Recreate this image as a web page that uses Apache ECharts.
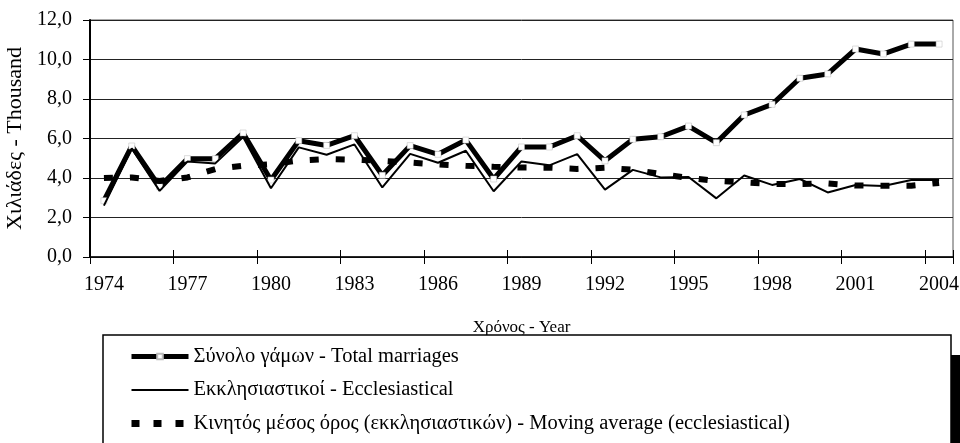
<!DOCTYPE html>
<html>
<head>
<meta charset="utf-8">
<script src="https://cdn.jsdelivr.net/npm/echarts@6/dist/echarts.min.js"></script>
<style>
html,body{margin:0;padding:0;background:#fff;}
#chart{width:960px;height:443px;}
</style>
</head>
<body>
<div id="chart"></div>
<script>
const years = ['1974','1975','1976','1977','1978','1979','1980','1981','1982','1983','1984','1985','1986','1987','1988','1989','1990','1991','1992','1993','1994','1995','1996','1997','1998','1999','2000','2001','2002','2003','2004'];
const totalMarriages = [2.85,5.62,3.56,4.98,4.98,6.28,3.90,5.89,5.65,6.14,4.14,5.64,5.20,5.92,3.95,5.57,5.57,6.14,4.87,5.96,6.09,6.63,5.79,7.19,7.73,9.05,9.27,10.53,10.28,10.78,10.78];
const ecclesiastical = [2.60,5.50,3.35,4.83,4.74,6.08,3.48,5.55,5.18,5.70,3.52,5.22,4.77,5.38,3.33,4.84,4.64,5.21,3.41,4.41,4.03,4.05,2.97,4.13,3.65,3.95,3.27,3.65,3.60,3.90,3.90];
const movingAverage = [4.00,4.03,3.85,4.03,4.45,4.62,4.70,4.88,4.96,4.93,4.87,4.78,4.69,4.62,4.57,4.53,4.52,4.46,4.52,4.42,4.20,4.00,3.85,3.78,3.70,3.70,3.72,3.62,3.61,3.61,3.75];
const yTicks = [0, 2, 4, 6, 8, 10, 12];

const seriesNames = [
  'Σύνολο γάμων - Total marriages',
  'Εκκλησιαστικοί - Ecclesiastical',
  'Κινητός μέσος όρος (εκκλησιαστικών) - Moving average (ecclesiastical)'
];
const FONT = '"Liberation Serif", "Times New Roman", serif';

const chart = echarts.init(document.getElementById('chart'), null, {renderer: 'canvas'});
chart.setOption({
  backgroundColor: '#fff',
  animation: false,
  textStyle: {fontFamily: FONT, color: '#000'},
  grid: {left: 90, right: 7, top: 20, bottom: 186, outerBoundsMode: 'none', containLabel: false,
    show: true, borderColor: '#555', borderWidth: 1, backgroundColor: 'transparent'},
  xAxis: [{
    type: 'category',
    data: years,
    boundaryGap: true,
    position: 'bottom',
    name: 'Χρόνος - Year',
    nameLocation: 'middle',
    nameGap: 62,
    nameTextStyle: {fontFamily: FONT, fontSize: 17, color: '#000'},
    axisLine: {show: true, lineStyle: {color: '#000', width: 1.5}},
    axisTick: {show: true, inside: false, length: 7, interval: 2, lineStyle: {color: '#000', width: 1}},
    axisLabel: {interval: 2, margin: 18, fontFamily: FONT, fontSize: 20, color: '#000'},
    splitLine: {show: false}
  }, {
    type: 'category',
    data: years,
    boundaryGap: true,
    position: 'bottom',
    axisLine: {show: false},
    axisTick: {show: true, inside: true, length: 7, interval: 2, lineStyle: {color: '#000', width: 1}},
    axisLabel: {show: false},
    splitLine: {show: false}
  }],
  yAxis: {
    type: 'value',
    min: yTicks[0],
    max: yTicks[yTicks.length - 1],
    interval: 2,
    name: 'Χιλιάδες - Thousand',
    nameLocation: 'middle',
    nameGap: 60,
    nameTextStyle: {fontFamily: FONT, fontSize: 22, color: '#000'},
    axisLine: {show: true, lineStyle: {color: '#000', width: 2}},
    axisTick: {show: true, inside: false, length: 7, lineStyle: {color: '#000', width: 1}},
    axisLabel: {margin: 18, fontFamily: FONT, fontSize: 20, color: '#000',
      formatter: v => v.toFixed(1).replace('.', ',')},
    splitLine: {show: true, lineStyle: {color: '#222', width: 1}}
  },
  legend: {
    orient: 'vertical',
    left: 123,
    top: 341,
    height: 110,
    itemWidth: 57,
    itemHeight: 7,
    itemGap: 12.5,
    z: 10,
    textStyle: {fontFamily: FONT, fontSize: 20.5, color: '#000'},
    data: [
      {name: seriesNames[0], lineStyle: {width: 5, color: '#000'}},
      {name: seriesNames[1], lineStyle: {width: 2, color: '#000'}},
      {name: seriesNames[2], lineStyle: {width: 7, color: '#000', type: [8, 14], cap: 'butt'}}
    ]
  },
  graphic: [
    {type: 'rect', z: 1, shape: {x: 103, y: 335, width: 848, height: 120}, style: {fill: '#fff', stroke: '#000', lineWidth: 1.5}},
    {type: 'rect', z: 1, shape: {x: 951, y: 355, width: 9, height: 90}, style: {fill: '#000'}}
  ],
  series: [{
    name: seriesNames[0],
    type: 'line',
    data: totalMarriages,
    symbol: 'rect',
    symbolSize: 6,
    showSymbol: true,
    itemStyle: {color: '#fff', borderColor: '#bbb', borderWidth: 0.5},
    lineStyle: {color: '#000', width: 5},
    z: 3
  }, {
    name: seriesNames[1],
    type: 'line',
    data: ecclesiastical,
    symbol: 'circle',
    showSymbol: false,
    itemStyle: {color: 'rgba(0,0,0,0)', borderWidth: 0},
    lineStyle: {color: '#000', width: 2},
    z: 4
  }, {
    name: seriesNames[2],
    type: 'line',
    data: movingAverage,
    symbol: 'circle',
    showSymbol: false,
    itemStyle: {color: 'rgba(0,0,0,0)', borderWidth: 0},
    lineStyle: {color: '#000', width: 6, type: [9, 17], cap: 'butt'},
    z: 5
  }]
});
</script>
</body>
</html>
